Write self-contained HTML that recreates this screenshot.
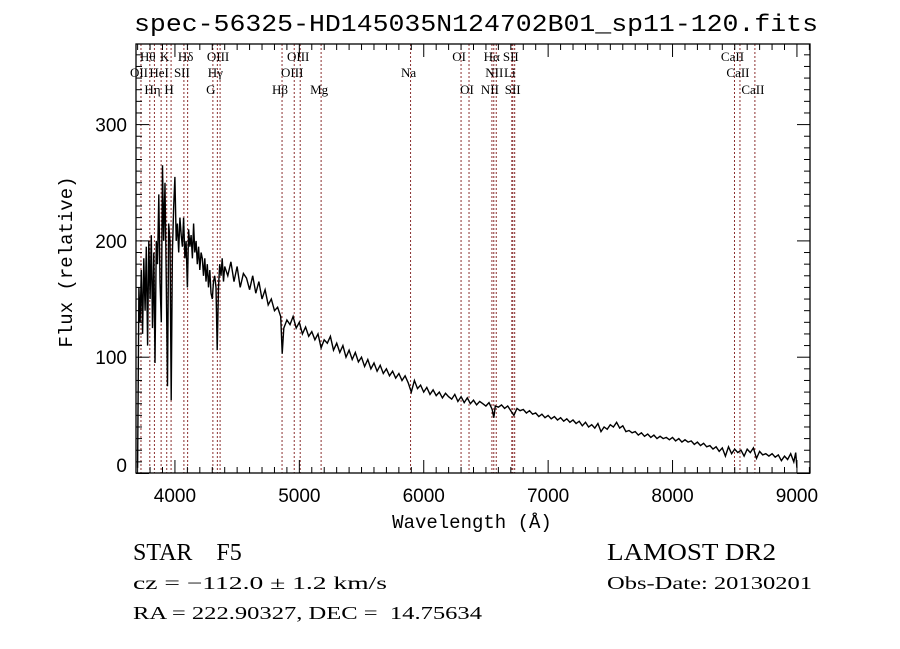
<!DOCTYPE html>
<html><head><meta charset="utf-8"><style>
html,body{margin:0;padding:0;background:#fff;}
svg{display:block;}
</style></head><body>
<svg id="chart" width="900" height="649" viewBox="0 0 900 649" xmlns="http://www.w3.org/2000/svg">
<rect x="0" y="0" width="900" height="649" fill="#fff"/>
<text x="476" y="31" text-anchor="middle" font-family="Liberation Mono, monospace" font-size="24" textLength="684" lengthAdjust="spacingAndGlyphs">spec-56325-HD145035N124702B01_sp11-120.fits</text>
<g id="lines"></g>
<g id="labels" font-family="Liberation Serif, serif" font-size="13"></g>
<path id="spec" fill="none" stroke="#000" stroke-width="1.4"/>
<rect x="136" y="44" width="674" height="429" fill="none" stroke="#000" stroke-width="1.3"/>
<g id="axes"></g>
<text x="472" y="528" text-anchor="middle" font-family="Liberation Mono, monospace" font-size="19">Wavelength (Å)</text>
<text transform="translate(72,262) rotate(-90)" text-anchor="middle" font-family="Liberation Mono, monospace" font-size="19">Flux (relative)</text>
<g font-family="Liberation Serif, serif">
<text x="133" y="560" font-size="24">STAR&#160;&#160;&#160;&#160;F5</text>
<text x="607" y="560" font-size="24" textLength="169" lengthAdjust="spacingAndGlyphs">LAMOST DR2</text>
<text x="133" y="589" font-size="18" textLength="254" lengthAdjust="spacingAndGlyphs">cz = −112.0 ± 1.2 km/s</text>
<text x="607" y="589" font-size="18" textLength="205" lengthAdjust="spacingAndGlyphs">Obs-Date: 20130201</text>
<text x="133" y="619" font-size="18" textLength="349" lengthAdjust="spacingAndGlyphs">RA = 222.90327, DEC =&#160;&#160;14.75634</text>
</g>
</svg>
<script>
const wavelengths = [3700,3710,3720,3730,3740,3750,3760,3770,3780,3790,3800,3810,3820,3830,3840,3850,3860,3870,3880,3890,3900,3910,3920,3930,3940,3950,3960,3970,3980,3990,4000,4010,4020,4030,4040,4050,4060,4070,4080,4090,4100,4110,4120,4130,4140,4150,4160,4170,4180,4190,4200,4210,4220,4230,4240,4250,4260,4270,4280,4290,4300,4310,4320,4330,4340,4350,4360,4370,4380,4390,4400,
4425,4450,4475,4500,4525,4550,4575,4600,4625,4650,4675,4700,4725,4750,4775,4800,4825,4850,4862,4875,4900,4925,4950,4975,5000,5025,5050,5075,5100,5125,5150,5175,5200,5225,5250,5275,5300,5325,5350,5375,5400,5425,5450,5475,5500,5525,5550,5575,5600,5625,5650,5675,5700,5725,5750,5775,5800,5825,5850,5875,5900,5925,5950,5975,6000,6025,6050,6075,6100,6125,6150,6175,6200,6225,6250,6275,6300,6325,6350,6375,6400,6425,6450,6475,6500,6525,6550,6563,6575,6600,6625,6650,6675,6700,6725,6750,6775,6800,6825,6850,6875,6900,6925,6950,6975,7000,7025,7050,7075,7100,7125,7150,7175,7200,7225,7250,7275,7300,7325,7350,7375,7400,7425,7450,7475,7500,7525,7550,7575,7600,7625,7650,7675,7700,7725,7750,7775,7800,7825,7850,7875,7900,7925,7950,7975,8000,8025,8050,8075,8100,8125,8150,8175,8200,8225,8250,8275,8300,8325,8350,8375,8400,8425,8450,8475,8500,8525,8550,8575,8600,8625,8650,8675,8700,8725,8750,8775,8800,8825,8850,8875,8900,8925,8950,8975,8990,9000];
const fluxes = [5,160,130,175,120,185,140,195,110,200,150,205,125,190,95,200,180,240,165,130,265,200,250,170,75,215,200,63,190,230,255,200,215,190,220,205,195,220,185,200,160,210,195,205,185,215,190,200,180,195,175,190,185,170,185,165,180,160,175,155,150,165,170,160,106,160,180,170,185,165,178,
170,182,165,178,160,172,168,158,170,155,165,150,158,145,150,140,143,135,103,125,132,128,135,125,130,120,126,118,122,115,120,108,115,112,118,106,112,104,110,100,106,98,104,96,100,92,98,90,95,88,93,86,90,84,88,82,86,80,84,78,70,80,73,76,70,74,68,72,67,70,65,69,66,64,68,62,66,61,65,60,63,59,62,60,58,61,55,48,58,57,59,56,58,54,50,56,54,55,52,54,51,52,49,51,48,50,47,49,46,48,45,47,44,46,43,45,41,44,40,42,39,43,36,40,38,42,40,44,39,41,36,37,35,36,33,35,32,34,31,33,30,32,30,31,29,31,28,30,27,29,27,28,25,27,24,26,23,24,21,23,19,22,15,23,17,21,18,20,15,21,18,22,13,19,16,17,15,17,14,16,11,15,12,17,10,18,5];
const lineWaves = [3727,3798,3835,3889,3934,3969,4072,4102,4305,4341,4363,4861,4959,5007,5175,5894,6300,6364,6548,6563,6583,6708,6716,6731,8498,8542,8662];
const lineNames = ["OII","Hθ","Hη","HeI","K","H","SII","Hδ","G","Hγ","OIII","Hβ","OIII","OIII","Mg","Na","OI","OI","NII","Hα","NII","Li","SII","SII","CaII","CaII","CaII"];
const lineRows = [1,0,2,1,0,2,1,0,2,1,0,2,1,0,2,1,0,2,2,0,1,1,0,2,0,1,2];
const xTickLabels = [4000,5000,6000,7000,8000,9000];
const yTickLabels = [0,100,200,300];

const X0=136,X1=810,W0=3687,W1=9105,YB=473.5,PPU=1.163,TOP=44;
function xs(w){return X0+(w-W0)*(X1-X0)/(W1-W0);}
function ys(v){return YB-v*PPU;}
const NS="http://www.w3.org/2000/svg";
function mk(t,a){const e=document.createElementNS(NS,t);for(const k in a)e.setAttribute(k,a[k]);return e;}

let d="";
for(let i=0;i<wavelengths.length;i++){d+=(i?"L":"M")+xs(wavelengths[i]).toFixed(1)+","+Math.min(473,ys(fluxes[i])).toFixed(1);}
document.getElementById("spec").setAttribute("d",d);

const lg=document.getElementById("lines"), lb=document.getElementById("labels");
const rowY=[61,77,94];
for(let i=0;i<lineWaves.length;i++){
  const x=xs(lineWaves[i]);
  const l=mk("line",{x1:x,x2:x,y1:TOP,y2:473,stroke:"#8b2f2f","stroke-width":1,"stroke-dasharray":"2,2"});
  
  
  lg.appendChild(l);
  const t=mk("text",{x:x-2,y:rowY[lineRows[i]],"text-anchor":"middle"});
  
  
  t.textContent=lineNames[i];
  lb.appendChild(t);
}

const ax=document.getElementById("axes");
for(let w=3700;w<=9100;w+=100){
  const x=xs(w), major=w%1000===0, len=major?13:6;
  const a=mk("line",{x1:x,x2:x,y1:473,y2:473-len,stroke:"#000","stroke-width":1});
  
  
  ax.appendChild(a);
  const b=mk("line",{x1:x,x2:x,y1:TOP,y2:TOP+len,stroke:"#000","stroke-width":1});
  
  
  ax.appendChild(b);
}
xTickLabels.forEach(v=>{
  const t=mk("text",{x:xs(v),y:502,"text-anchor":"middle","font-family":"Liberation Sans, sans-serif","font-size":19});
  
  
  t.textContent=v;ax.appendChild(t);
});
for(let v=0;v<=360;v+=10){
  const y=ys(v), major=v%100===0, len=major?13:6;
  if(y<TOP)continue;
  const a=mk("line",{x1:X0,x2:X0+len,y1:y,y2:y,stroke:"#000","stroke-width":1});
  
  
  ax.appendChild(a);
  const b=mk("line",{x1:X1,x2:X1-len,y1:y,y2:y,stroke:"#000","stroke-width":1});
  
  
  ax.appendChild(b);
}
yTickLabels.forEach(v=>{
  const t=mk("text",{x:127,y:Math.min(ys(v)+7,472),"text-anchor":"end","font-family":"Liberation Sans, sans-serif","font-size":19});
  
  
  t.textContent=v;ax.appendChild(t);
});
</script>
</body></html>
